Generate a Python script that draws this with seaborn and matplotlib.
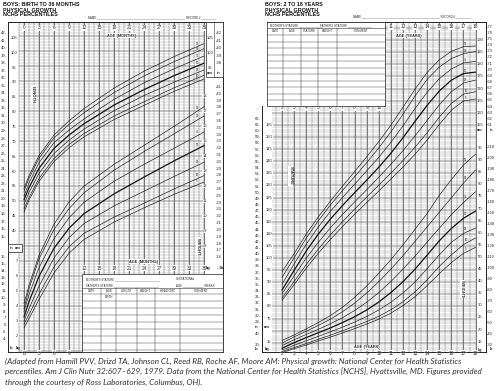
import numpy as np
import pandas as pd
import matplotlib
matplotlib.use('Agg')
import matplotlib.pyplot as plt
import seaborn as sns
from matplotlib.lines import Line2D
from matplotlib.patches import Rectangle

sns.set_style('white')
plt.rcParams['font.family'] = ['Liberation Sans', 'DejaVu Sans']

W, H = 500, 391

percentiles = ['5', '10', '25', '50', '75', '90', '95']

# boys, birth to 36 months
infant_months = [0, 1, 3, 6, 9, 12, 18, 24, 30, 36]
infant_length = {
    '5':  [46.4, 50.4, 56.7, 63.4, 68.0, 71.7, 77.5, 82.3, 87.0, 91.2],
    '10': [47.5, 51.3, 57.7, 64.4, 69.1, 72.8, 78.7, 83.5, 88.2, 92.4],
    '25': [49.0, 53.0, 59.4, 66.1, 70.6, 74.3, 80.5, 85.6, 90.1, 94.2],
    '50': [50.5, 54.6, 61.1, 67.8, 72.3, 76.1, 82.4, 87.6, 92.3, 96.5],
    '75': [51.8, 56.2, 63.0, 69.7, 74.0, 77.7, 84.3, 89.9, 94.6, 98.9],
    '90': [53.5, 57.7, 64.5, 71.3, 75.9, 79.8, 86.6, 92.2, 97.0, 101.4],
    '95': [54.4, 58.6, 65.4, 72.3, 77.1, 81.2, 88.1, 93.8, 98.7, 103.1],
}
infant_weight = {
    '5':  [2.54, 3.16, 4.43, 6.20, 7.52, 8.43, 9.59, 10.54, 11.44, 12.26],
    '10': [2.78, 3.43, 4.78, 6.61, 7.95, 8.84, 9.92, 10.85, 11.80, 12.69],
    '25': [3.00, 3.82, 5.32, 7.20, 8.56, 9.49, 10.67, 11.65, 12.63, 13.58],
    '50': [3.27, 4.29, 5.98, 7.85, 9.18, 10.15, 11.47, 12.59, 13.67, 14.69],
    '75': [3.64, 4.75, 6.56, 8.49, 9.88, 10.91, 12.31, 13.44, 14.51, 15.59],
    '90': [3.82, 5.14, 7.14, 9.10, 10.49, 11.54, 13.05, 14.29, 15.47, 16.66],
    '95': [4.15, 5.38, 7.37, 9.46, 10.93, 11.99, 13.44, 14.70, 15.97, 17.28],
}

# boys, 2 to 18 years
child_years = list(range(2, 19))
child_stature = {
    '5':  [82.5, 89.0, 95.8, 102.0, 107.7, 113.0, 118.1, 122.9, 127.7, 132.6, 137.6, 142.9, 148.8, 155.2, 161.1, 164.9, 165.7],
    '10': [83.5, 90.3, 97.3, 103.7, 109.6, 115.0, 120.2, 125.2, 130.1, 135.1, 140.3, 145.8, 151.8, 158.2, 163.9, 167.7, 168.7],
    '25': [85.3, 92.6, 100.0, 106.5, 112.5, 118.0, 123.2, 128.2, 133.4, 138.7, 144.4, 150.5, 156.9, 163.3, 168.7, 172.3, 173.5],
    '50': [86.8, 94.9, 102.9, 109.9, 116.1, 121.7, 127.0, 132.2, 137.5, 143.3, 149.7, 156.5, 163.1, 169.0, 173.5, 176.2, 176.8],
    '75': [89.2, 97.5, 105.7, 112.8, 119.3, 125.0, 130.5, 136.0, 141.6, 147.8, 154.6, 161.8, 168.5, 174.1, 178.1, 180.6, 181.2],
    '90': [92.0, 100.1, 108.2, 115.4, 121.9, 127.9, 133.6, 139.4, 145.5, 152.1, 159.4, 167.0, 173.8, 178.9, 182.4, 184.4, 185.3],
    '95': [94.4, 101.8, 109.9, 117.0, 123.5, 129.7, 135.7, 141.8, 148.1, 154.9, 162.3, 169.8, 176.7, 181.9, 185.4, 187.3, 187.6],
}
child_weight = {
    '5':  [10.5, 12.1, 13.6, 15.3, 16.9, 18.6, 20.4, 22.3, 24.3, 26.8, 29.9, 33.6, 38.2, 43.1, 47.7, 51.5, 54.0],
    '10': [11.0, 12.6, 14.2, 16.0, 17.7, 19.5, 21.4, 23.3, 25.5, 28.2, 31.5, 35.6, 40.6, 46.1, 50.9, 55.1, 57.9],
    '25': [11.6, 13.5, 15.4, 17.2, 19.1, 21.0, 23.1, 25.4, 28.1, 31.3, 35.1, 39.7, 45.2, 50.9, 56.1, 59.7, 62.0],
    '50': [12.3, 14.6, 16.7, 18.7, 20.7, 22.9, 25.3, 28.1, 31.4, 35.3, 39.8, 45.0, 50.8, 56.7, 61.8, 66.0, 69.0],
    '75': [13.4, 15.8, 18.0, 20.1, 22.4, 24.9, 27.9, 31.3, 35.3, 39.9, 45.0, 50.4, 56.2, 61.9, 67.5, 72.5, 77.0],
    '90': [14.4, 17.0, 19.3, 21.7, 24.3, 27.4, 30.9, 35.1, 39.8, 45.0, 50.5, 56.5, 62.5, 68.5, 74.5, 80.5, 86.0],
    '95': [15.5, 17.8, 20.3, 22.9, 25.8, 29.2, 33.3, 38.0, 43.3, 48.9, 55.0, 61.5, 68.0, 75.5, 82.0, 88.0, 92.5],
}

month_ticks = list(range(0, 37, 3))
year_ticks = list(range(2, 19))

caption = ["(Adapted from Hamill PVV, Drizd TA, Johnson CL, Reed RB, Roche AF, Moore AM: Physical growth: National Center for Health Statistics",
           "percentiles. Am J Clin Nutr 32:607\u2013629, 1979. Data from the National Center for Health Statistics [NCHS], Hyattsville, MD. Figures provided",
           "through the courtesy of Ross Laboratories, Columbus, OH)."]


def to_long(xs, table, xname, yname):
    rows = []
    for p in percentiles:
        for a, v in zip(xs, table[p]):
            rows.append((a, v, p))
    return pd.DataFrame(rows, columns=[xname, yname, 'pct'])


pal = {p: '#111111' for p in percentiles}
widths = {p: (0.9 if p == '50' else 0.45) for p in percentiles}

fig = plt.figure(figsize=(W / 100, H / 100), dpi=100)


def fx(x):
    return x / W


def fy(y):
    return 1 - y / H


def pline(x0, y0, x1, y1, lw=0.4, c='#333333'):
    fig.add_artist(Line2D([fx(x0), fx(x1)], [fy(y0), fy(y1)], lw=lw, color=c, zorder=3))


def pbox(x0, y0, x1, y1, lw=0.5, ec='#222222'):
    fig.add_artist(Rectangle((fx(x0), fy(y1)), fx(x1) - fx(x0), fy(y0) - fy(y1),
                             facecolor='white', edgecolor=ec, lw=lw, zorder=2))


def ptext(x, y, s, size=2.3, ha='left', **kw):
    fig.text(fx(x), fy(y), s, fontsize=size, ha=ha, va='center', zorder=4, color='#222222', **kw)


def curves(ax, df, x, y):
    sns.lineplot(data=df, x=x, y=y, hue='pct', size='pct', palette=pal, sizes=widths,
                 legend=False, ax=ax, estimator=None, sort=True, zorder=3)
    ax.set_xlabel('')
    ax.set_ylabel('')


def bare(ax):
    ax.set_xticks([])
    ax.set_yticks([])
    for s in ax.spines.values():
        s.set_linewidth(0.6)
        s.set_color('#222222')


bb = dict(facecolor='white', edgecolor='none', pad=0.3)

# ---------------- left chart: birth to 36 months ----------------
axL = fig.add_axes([fx(8), fy(352), (223 - 8) / W, 330 / H])
axLc = axL.twinx()
curves(axL, to_long(infant_months, infant_weight, 'month', 'kg'), 'month', 'kg')
curves(axLc, to_long(infant_months, infant_length, 'month', 'cm'), 'month', 'cm')
axL.set_xlim(-3.2, 39.8)
axL.set_ylim(0.933, 22.93)
axLc.set_ylim(-0.74, 110.37)
bare(axL)
bare(axLc)

axL.vlines(np.arange(-1, 37), 0.933, 22.93, colors='#555555', lw=0.3, zorder=1)
axL.vlines(month_ticks, 0.933, 22.93, colors='#333333', lw=0.45, zorder=1)
axL.hlines(np.arange(1.0, 22.9, 0.2), -1, 36.2, colors='#8a8a8a', lw=0.25, zorder=1)
axL.hlines(np.arange(1.0, 22.9, 1.0), -1, 36.2, colors='#555555', lw=0.35, zorder=1)

tx = axL.get_xaxis_transform()
for m in month_ticks:
    axL.text(m, 0.982, str(m), transform=tx, fontsize=3.4, ha='center', va='center', bbox=bb, zorder=6)
    if m >= 12:
        axL.text(m, 0.2545, str(m), transform=tx, fontsize=3.4, ha='center', va='center', bbox=bb, zorder=6)
    if m <= 9:
        axL.text(m, -0.004, 'B' if m == 0 else str(m), transform=tx, fontsize=3.4,
                 ha='center', va='center', bbox=bb, zorder=6, clip_on=False)
axL.text(19.5, 0.958, 'AGE (MONTHS)', transform=tx, fontsize=2.8, weight='bold', ha='center', va='center', bbox=bb, zorder=6)
axL.text(24, 0.273, 'AGE (MONTHS)', transform=tx, fontsize=2.8, weight='bold', ha='center', va='center', bbox=bb, zorder=6)

# length scale labels
ty = axLc.get_yaxis_transform()
for inch in range(15, 43):
    axLc.text(-0.005, inch * 2.54, f'{inch}-', transform=ty, fontsize=3.0, ha='right', va='center', clip_on=False)
for cm in range(40, 106, 5):
    axLc.text(0.028, cm, str(cm), transform=ty, fontsize=3.0, ha='center', va='center', bbox=bb, zorder=6)

# weight scale labels
tw = axL.get_yaxis_transform()
for kg in range(2, 8):
    axL.text(0.042, kg, str(kg), transform=tw, fontsize=3.0, ha='center', va='center', bbox=bb, zorder=6)
for lb in range(4, 17):
    axL.text(-0.005, lb * 0.4536, f'{lb}-', transform=tw, fontsize=3.0, ha='right', va='center', clip_on=False)
for kg in range(8, 19):
    axL.text(0.917, kg, str(kg), transform=tw, fontsize=3.0, ha='center', va='center', bbox=bb, zorder=6)
for lb in range(16, 42):
    axL.text(0.98, lb * 0.4536, f'-{lb}', transform=tw, fontsize=3.0, ha='center', va='center', bbox=bb, zorder=6)

for p in percentiles:
    axLc.text(34.6, np.interp(34.6, infant_months, infant_length[p]) + 0.9, p, fontsize=2.1, ha='center', va='center', zorder=6)
    axL.text(34.6, np.interp(34.6, infant_months, infant_weight[p]) + 0.25, p, fontsize=2.1, ha='center', va='center', zorder=6)

axLc.text(1.8, 86, 'LENGTH', fontsize=3.0, weight='bold', rotation=270, ha='center', va='center', bbox=bb, zorder=6)
axL.text(34.8, 8.0, 'WEIGHT', fontsize=3.0, weight='bold', rotation=270, ha='center', va='center', bbox=bb, zorder=6)

# boxes on the left chart
pbox(206, 22, 223, 77)
pline(214, 22, 214, 77)
for cm in [105, 100, 95]:
    ptext(210, 231 - (cm - 40) * 2.97, str(cm), size=3.0, ha='center')
for inch in range(38, 43):
    ptext(219, 231 - (inch * 2.54 - 40) * 2.97, f'-{inch}', size=3.0, ha='center')
ptext(210, 73, 'cm', size=3.0, ha='center', weight='bold')
ptext(219, 73, 'in', size=3.0, ha='center', weight='bold')
pbox(8, 244, 22, 252)
ptext(12, 248, 'in', size=3.0, ha='center', weight='bold')
ptext(18, 248, 'cm', size=3.0, ha='center', weight='bold')
ptext(12, 348, 'lb', size=3.0, ha='center', weight='bold')
ptext(18, 348, 'kg', size=3.0, ha='center', weight='bold')
ptext(208, 268, 'kg', size=3.0, ha='center', weight='bold')
ptext(220, 268, '- lb', size=3.0, ha='center', weight='bold')

# record table, left chart
pbox(82, 274, 223, 352)
ptext(86, 279, "MOTHER'S STATURE ______________________________", size=2.0)
ptext(86, 285, "FATHER'S STATURE ______________________________", size=2.0)
ptext(176, 279, 'GESTATIONAL', size=2.0)
ptext(176, 285, 'AGE ______________ WEEKS', size=2.0)
pline(82, 288, 223, 288)
for ry in range(294, 352, 7):
    pline(82, ry, 223, ry, lw=0.3)
for cx in [101, 116, 137, 155, 180]:
    pline(cx, 288, cx, 352, lw=0.35)
for cx, lab in [(91.5, 'DATE'), (108.5, 'AGE'), (126.5, 'LENGTH'), (146, 'WEIGHT'),
                (167.5, 'HEAD CIRC'), (201.5, 'COMMENT')]:
    ptext(cx, 291, lab, size=2.0, ha='center')
ptext(108.5, 297, 'BIRTH', size=2.0, ha='center')

# ---------------- right chart: 2 to 18 years ----------------
axR = fig.add_axes([fx(262), fy(352), 224 / W, 330 / H])
axRw = axR.twinx()
curves(axR, to_long(child_years, child_stature, 'age', 'cm'), 'age', 'cm')
curves(axRw, to_long(child_years, child_weight, 'age', 'kg'), 'age', 'kg')
axR.set_xlim(0.347, 18.86)
axR.set_ylim(61.2, 197.5)
axRw.set_ylim(10.74, 147.1)
bare(axR)
bare(axRw)

axR.vlines(np.arange(1.5, 18.1, 0.5), 61.2, 197.5, colors='#666666', lw=0.28, zorder=1)
axR.vlines(year_ticks, 61.2, 197.5, colors='#333333', lw=0.42, zorder=1)
axR.hlines(np.arange(62, 197, 1.0), 1.2, 18.0, colors='#8a8a8a', lw=0.25, zorder=1)
axR.hlines(np.arange(65, 197, 5.0), 1.2, 18.0, colors='#555555', lw=0.35, zorder=1)

txr = axR.get_xaxis_transform()
for a in year_ticks:
    axR.text(a, -0.004, str(a), transform=txr, fontsize=3.4, ha='center', va='center', bbox=bb, zorder=6, clip_on=False)
    if a >= 11:
        axR.text(a, 0.985, str(a), transform=txr, fontsize=3.4, ha='center', va='center', bbox=bb, zorder=6)
axR.text(12.5, 0.958, 'AGE (YEARS)', transform=txr, fontsize=2.8, weight='bold', ha='center', va='center', bbox=bb, zorder=6)
axR.text(9.0, 0.015, 'AGE (YEARS)', transform=txr, fontsize=2.8, weight='bold', ha='center', va='center', bbox=bb, zorder=6)

tyr = axR.get_yaxis_transform()
for inch in range(29, 63):
    axR.text(-0.005, inch * 2.54, f'{inch}-', transform=tyr, fontsize=3.0, ha='right', va='center', clip_on=False)
for cm in range(75, 156, 5):
    axR.text(0.03, cm, str(cm), transform=tyr, fontsize=3.0, ha='center', va='center', bbox=bb, zorder=6)
for cm in range(155, 191, 5):
    axR.text(0.975, cm, str(cm), transform=tyr, fontsize=3.0, ha='center', va='center', bbox=bb, zorder=6)
for inch in range(61, 78):
    axR.text(1.005, inch * 2.54, f'-{inch}', transform=tyr, fontsize=2.9, ha='left', va='center', clip_on=False)

twr = axRw.get_yaxis_transform()
for kg in range(15, 96, 5):
    axRw.text(0.975, kg, str(kg), transform=twr, fontsize=3.0, ha='center', va='center', bbox=bb, zorder=6)
for lb in range(30, 211, 10):
    axRw.text(1.005, lb * 0.4536, f'-{lb}', transform=twr, fontsize=2.9, ha='left', va='center', clip_on=False)
for lb in [30, 40]:
    axRw.text(-0.005, lb * 0.4536, f'{lb}-', transform=twr, fontsize=3.0, ha='right', va='center', clip_on=False)
axRw.text(0.03, 15, '15', transform=twr, fontsize=3.0, ha='center', va='center', bbox=bb, zorder=6)

for p in percentiles:
    axR.text(17.2, np.interp(17.2, child_years, child_stature[p]) + 1.0, p, fontsize=2.1, ha='center', va='center', zorder=6)
    axRw.text(17.2, np.interp(17.2, child_years, child_weight[p]) + 1.2, p, fontsize=2.1, ha='center', va='center', zorder=6)

axR.text(2.7, 134, 'STATURE', fontsize=3.0, weight='bold', rotation=270, ha='center', va='center', bbox=bb, zorder=6)
axRw.text(16.9, 37, 'WEIGHT', fontsize=3.0, weight='bold', rotation=270, ha='center', va='center', bbox=bb, zorder=6)

ptext(257, 327, 'in', size=3.0, ha='center', weight='bold')
ptext(267, 327, 'cm', size=3.0, ha='center', weight='bold')
ptext(257, 349, 'lb', size=3.0, ha='center', weight='bold')
ptext(267, 349, 'kg', size=3.0, ha='center', weight='bold')
ptext(480, 130, 'cm', size=2.8, ha='center', weight='bold')
ptext(491, 130, 'in', size=2.8, ha='center', weight='bold')
ptext(480, 349.5, 'kg', size=2.8, ha='center', weight='bold')
ptext(491, 349.5, 'lb', size=2.8, ha='center', weight='bold')

# record table, right chart
pbox(253, 21, 267, 106, lw=0, ec='white')
pbox(267, 22, 385, 106)
ptext(270, 25, "MOTHER'S STATURE ________________", size=2.0)
ptext(320, 25, "FATHER'S STATURE ________________", size=2.0)
pline(267, 28, 385, 28)
pline(267, 35, 385, 35, lw=0.3)
for ry in np.arange(41.5, 106, 6.5):
    pline(267, ry, 385, ry, lw=0.3)
for cx in [283, 301, 318, 337]:
    pline(cx, 28, cx, 106, lw=0.35)
for cx, lab in [(275, 'DATE'), (292, 'AGE'), (309.5, 'STATURE'), (327.5, 'WEIGHT'), (361, 'COMMENT')]:
    ptext(cx, 31.5, lab, size=2.0, ha='center')
for a in range(2, 11):
    axR.text(a, 0.74, str(a), transform=txr, fontsize=3.4, ha='center', va='center', bbox=bb, zorder=6)

# ---------------- titles and caption ----------------
for i, line in enumerate(['BOYS: BIRTH TO 36 MONTHS', 'PHYSICAL GROWTH', 'NCHS PERCENTILES']):
    fig.text(fx(3), fy(5 + 5 * i), line, fontsize=3.9, weight='bold', va='center', color='#111111')
for i, line in enumerate(['BOYS: 2 TO 18 YEARS', 'PHYSICAL GROWTH', 'NCHS PERCENTILES']):
    fig.text(fx(265), fy(5 + 5 * i), line, fontsize=3.9, weight='bold', va='center', color='#111111')
ptext(88, 17, 'NAME ___________________________________________________________ RECORD # __________', size=2.0)
ptext(353, 16, 'NAME ____________________________________________________ RECORD # __________', size=2.0)

for i, line in enumerate(caption):
    fig.text(fx(5), fy(361 + 10.5 * i), line, fontsize=5.9, family='Lato', style='italic',
             va='center', color='#333333')

fig.savefig('out.png', dpi=100)
